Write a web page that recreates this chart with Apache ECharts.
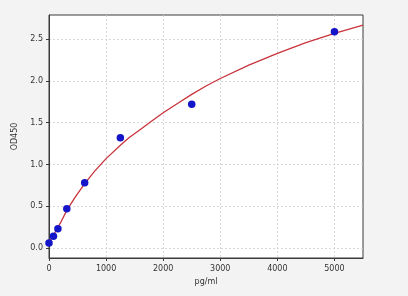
<!DOCTYPE html>
<html><head><meta charset="utf-8">
<script src="https://cdn.jsdelivr.net/npm/echarts@6/dist/echarts.min.js"></script>
<style>html,body{margin:0;padding:0;background:#f3f3f3}#c{width:408px;height:296px}</style>
</head><body><div id="c"></div>
<script>
const conc = [0, 78, 156, 312, 625, 1250, 2500, 5000];
const od = [0.06, 0.14, 0.23, 0.47, 0.78, 1.32, 1.72, 2.59];
const fitX = [0, 50, 100, 200, 312, 450, 625, 800, 1000, 1250, 1400, 1600, 1800, 2000, 2250, 2500, 2750, 3000, 3500, 4000, 4500, 5000, 5500];
const fitY = [0.07, 0.12, 0.18, 0.30, 0.45, 0.60, 0.77, 0.92, 1.07, 1.23, 1.32, 1.42, 1.52, 1.62, 1.73, 1.84, 1.94, 2.03, 2.19, 2.33, 2.46, 2.57, 2.67];
const xTicks = [0, 1000, 2000, 3000, 4000, 5000];
const yTicks = [0.0, 0.5, 1.0, 1.5, 2.0, 2.5];

const chart = echarts.init(document.getElementById('c'));
const font = 'DejaVu Sans';
chart.setOption({
  backgroundColor: '#f3f3f3',
  animation: false,
  grid: {left: 49, right: 45, top: 15, bottom: 38, show: true, backgroundColor: '#ffffff', borderColor: '#3a3a3a', borderWidth: 1},
  xAxis: {
    type: 'value', min: 0, max: 5500,
    name: 'pg/ml', nameLocation: 'middle', nameGap: 20,
    nameTextStyle: {fontFamily: font, fontSize: 8, color: '#333'},
    axisLine: {show: true, onZero: false, lineStyle: {color: '#3a3a3a', width: 1}},
    axisTick: {show: true, length: 3, lineStyle: {color: '#3a3a3a'}, customValues: xTicks},
    axisLabel: {fontFamily: font, fontSize: 8, color: '#333', margin: 7, customValues: xTicks, formatter: v => String(v)},
    splitLine: {show: true, lineStyle: {color: '#cfcfcf', type: [2, 2], width: 0.8}}
  },
  yAxis: {
    type: 'value', min: -0.12, max: 2.79,
    name: 'OD450', nameLocation: 'middle', nameGap: 23, nameRotate: 90,
    nameTextStyle: {fontFamily: font, fontSize: 8, color: '#333'},
    axisLine: {show: true, onZero: false, lineStyle: {color: '#3a3a3a', width: 1}},
    axisTick: {show: true, length: 3, lineStyle: {color: '#3a3a3a'}, customValues: yTicks},
    axisLabel: {fontFamily: font, fontSize: 8, color: '#333', margin: 6, customValues: yTicks, formatter: v => v.toFixed(1)},
    splitLine: {show: true, lineStyle: {color: '#cfcfcf', type: [2, 2], width: 0.8}}
  },
  series: [
    {type: 'line', data: fitX.map((x, i) => [x, fitY[i]]), smooth: false, showSymbol: false, symbol: 'none',
     lineStyle: {color: '#c8333c', width: 1.3}, z: 2},
    {type: 'scatter', data: conc.map((x, i) => [x, od[i]]), symbolSize: 7.5,
     itemStyle: {color: '#1414c8', opacity: 1}, z: 3}
  ]
});
</script></body></html>
